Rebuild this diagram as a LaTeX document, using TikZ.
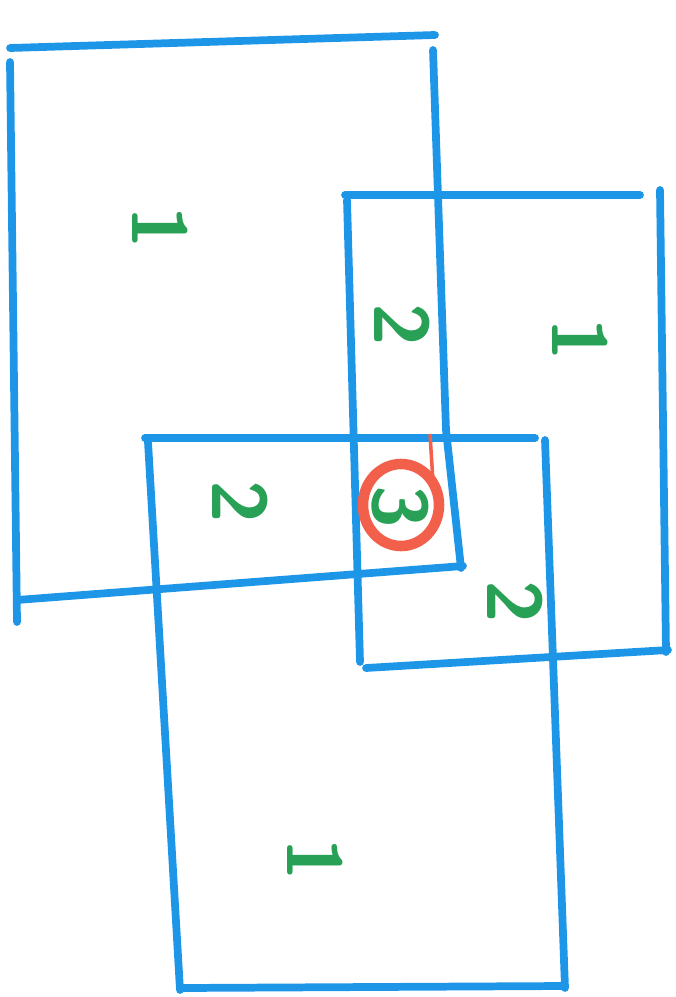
\documentclass[tikz,border=0pt]{standalone}
\usepackage{tikz}
\usetikzlibrary{arrows.meta, positioning}

\definecolor{penblue}{RGB}{30,150,232}
\definecolor{pengreen}{RGB}{40,160,85}
\definecolor{penred}{RGB}{242,95,75}

\begin{document}
\begin{tikzpicture}[
    x=0.01cm, y=-0.01cm,
    frame/.style={penblue, line width=2.2pt, line cap=round},
    count/.style={pengreen, rotate=-90, font=\sffamily\bfseries\fontsize{22}{22}\selectfont, inner sep=0pt},
    ring/.style={penred, line width=3pt}
]
    \useasboundingbox (0,0) rectangle (676,997);

    % Frames
    \draw[frame] (10,48) -- (435,35);
    \draw[frame] (10,62) -- (17,622);
    \draw[frame] (17,600) -- (463,566);
    \draw[frame] (433,50) -- (446,430) -- (461,568);

    \draw[frame] (345,195) -- (640,195);
    \draw[frame] (660,190) -- (666,652);
    \draw[frame] (366,668) -- (668,650);
    \draw[frame] (347,200) -- (360,662);

    \draw[frame] (145,438) -- (535,438);
    \draw[frame] (148,442) -- (180,990);
    \draw[frame] (182,988) -- (565,986);
    \draw[frame] (545,440) -- (565,988);

    % Nodes
    \node[count] (tl) at (160,228) {1};
    \node[count] (tr) at (580,340) {1};
    \node[count] (bm) at (315,860) {1};
    \node[count] (ab) at (402,325) {2};
    \node[count] (ac) at (240,502) {2};
    \node[count] (bc) at (515,602) {2};
    \node[count] (abc) at (400,507) {3};

    % Mark
    \draw[ring] (401,505) circle[x radius=38, y radius=41];
    \draw[penred, line width=1pt] (430,434) -- (433,482);
\end{tikzpicture}
\end{document}
